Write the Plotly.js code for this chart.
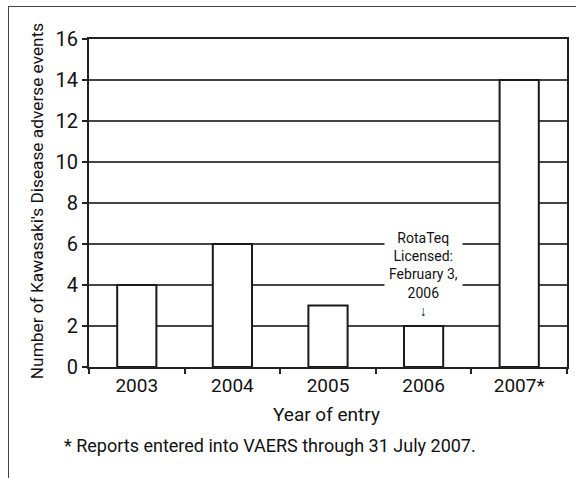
<!DOCTYPE html>
<html>
<head>
<meta charset="utf-8">
<script src="https://cdn.plot.ly/plotly-3.0.1.min.js"></script>
<style>
  html, body { margin: 0; padding: 0; background: #fff; }
  #wrap { position: relative; width: 576px; height: 478px; overflow: hidden; }
  #chart { position: absolute; left: 0; top: 0; width: 576px; height: 478px; }
  #frame { position: absolute; left: 8px; top: 6px; width: 580px; height: 480px;
           border-top: 1.5px solid #444; border-left: 1.5px solid #444; pointer-events: none; }
</style>
</head>
<body>
<div id="wrap">
  <div id="chart"></div>
  <div id="frame"></div>
</div>
<script>
const categories = ["2003", "2004", "2005", "2006", "2007*"];
const events = [4, 6, 3, 2, 14];
const yTicks = [0, 2, 4, 6, 8, 10, 12, 14, 16];
const noteCategoryIndex = 3;   // RotaTeq note sits above the 2006 bar
const noteValue = 2;

const FONT = "Roboto, Liberation Sans, sans-serif";

const trace = {
  type: "bar",
  x: categories,
  y: events,
  width: 0.41,
  marker: { color: "#ffffff", line: { color: "#1a1a1a", width: 2 } },
  hoverinfo: "skip"
};

const layout = {
  width: 576,
  height: 478,
  margin: { l: 89, r: 9, t: 39, b: 111 },
  paper_bgcolor: "#ffffff",
  plot_bgcolor: "#ffffff",
  showlegend: false,
  font: { family: FONT, color: "#111", size: 19 },
  xaxis: {
    type: "category",
    range: [-0.5, categories.length - 0.5],
    autorange: false,
    tickson: "boundaries",
    ticks: "outside",
    ticklen: 5,
    tickwidth: 2,
    tickcolor: "#222",
    tickangle: 0,
    showline: true,
    linecolor: "#222",
    linewidth: 2,
    mirror: true,
    showgrid: false,
    tickfont: { family: FONT, size: 19, color: "#111" }
  },
  yaxis: {
    range: [0, 16],
    autorange: false,
    tickvals: yTicks,
    ticktext: yTicks.map(String),
    ticks: "outside",
    ticklen: 5,
    tickwidth: 2,
    tickcolor: "#222",
    showline: true,
    linecolor: "#222",
    linewidth: 2,
    mirror: true,
    showgrid: true,
    gridcolor: "#444",
    gridwidth: 2,
    zeroline: false,
    tickfont: { family: FONT, size: 20, color: "#111" }
  },
  annotations: [
    {
      xref: "paper", yref: "paper",
      x: -0.107, y: 0.505,
      text: "Number of Kawasaki's Disease adverse events",
      textangle: -90, showarrow: false,
      xanchor: "center", yanchor: "middle",
      font: { family: FONT, size: 17.3, color: "#111" }
    },
    {
      xref: "paper", yref: "paper",
      x: 0.497, y: -0.145,
      text: "Year of entry",
      showarrow: false, xanchor: "center", yanchor: "middle",
      font: { family: FONT, size: 19, color: "#111" }
    },
    {
      xref: "paper", yref: "paper",
      x: -0.056, y: -0.239,
      text: "* Reports entered into VAERS through 31 July 2007.",
      showarrow: false, xanchor: "left", yanchor: "middle",
      font: { family: FONT, size: 18, color: "#111" }
    },
    {
      xref: "x", yref: "y",
      x: noteCategoryIndex, y: noteValue + 0.12,
      text: "RotaTeq<br>Licensed:<br>February 3,<br>2006<br>↓",
      showarrow: false, xanchor: "center", yanchor: "bottom",
      bgcolor: "#ffffff",
      borderpad: 4,
      font: { family: FONT, size: 14, color: "#111" }
    }
  ]
};

Plotly.newPlot("chart", [trace], layout, { staticPlot: true, displayModeBar: false });
</script>
</body>
</html>
